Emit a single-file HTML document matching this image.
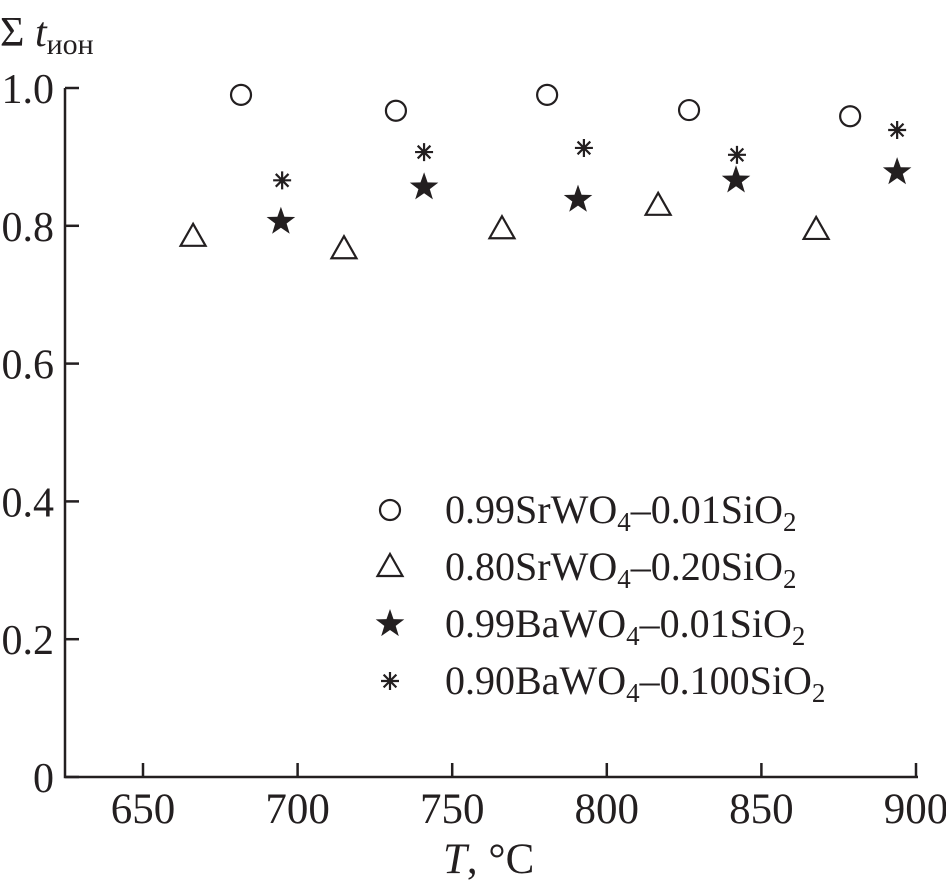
<!DOCTYPE html>
<html><head><meta charset="utf-8"><style>
body{margin:0;background:#fff}
svg{display:block;font-family:"Liberation Serif",serif}
</style></head><body>
<svg id="chart" width="946" height="890" viewBox="0 0 946 890">
<g id="axes" stroke="#231f20" stroke-width="2.5" fill="none"></g>
<g id="marks"></g>
<g id="labels" fill="#231f20"></g>
<text x="0" y="46" font-size="42" fill="#231f20">Σ <tspan font-style="italic">t</tspan><tspan font-size="30" dy="8">ион</tspan></text>
<text x="443" y="873" font-size="43" fill="#231f20"><tspan font-style="italic">T</tspan>, °C</text>
<g id="legend"></g>
</svg>
<script>
const xTicks=[650,700,750,800,850,900];
const yTicks=[0,0.2,0.4,0.6,0.8,1.0];
const yTickLabels=["0","0.2","0.4","0.6","0.8","1.0"];
const sr99T=[681.7,731.8,780.7,826.6,878.7];
const sr99V=[0.990,0.967,0.990,0.968,0.959];
const sr80T=[666.2,715,766.1,816.6,867.7];
const sr80V=[0.784,0.766,0.795,0.829,0.794];
const ba99T=[694.6,740.9,790.7,841.8,893.9];
const ba99V=[0.806,0.856,0.838,0.866,0.878];
const ba90T=[695,740.9,792.6,842.1,893.9];
const ba90V=[0.866,0.907,0.913,0.903,0.939];
const legendLabels=[["0.99SrWO","4","–0.01SiO","2"],["0.80SrWO","4","–0.20SiO","2"],["0.99BaWO","4","–0.01SiO","2"],["0.90BaWO","4","–0.100SiO","2"]];

const NS="http://www.w3.org/2000/svg";
const X0=65,X1=918,Y0=777;
function sx(t){return 143+(t-650)*154.6/50;}
function sy(v){return Y0-v*689;}
function mk(tag,attrs,parent){const e=document.createElementNS(NS,tag);for(const k in attrs)e.setAttribute(k,attrs[k]);parent.appendChild(e);return e;}
const axes=document.getElementById('axes'),marks=document.getElementById('marks'),labels=document.getElementById('labels'),legend=document.getElementById('legend');
let p=mk('path',{d:`M${X0} ${sy(1)} V${Y0} H${X1}`},axes);


xTicks.forEach(t=>{
 const l=mk('line',{x1:sx(t),x2:sx(t),y1:Y0,y2:Y0-14},axes);
 
 
 const tx=mk('text',{x:sx(t),y:823,'font-size':43,'text-anchor':'middle'},labels);
 tx.textContent=t;
 
 
});
yTicks.forEach((v,i)=>{
 const l=mk('line',{x1:X0,x2:X0+14,y1:sy(v),y2:sy(v)},axes);
 
 
 const tx=mk('text',{x:54,y:sy(v)+15,'font-size':42,'text-anchor':'end'},labels);
 tx.textContent=yTickLabels[i];
 
 
});
function circle(x,y,g){return mk('circle',{cx:x,cy:y,r:10,fill:'none',stroke:'#231f20','stroke-width':2.2},g);}
function tri(x,y,g){return mk('path',{d:`M${x} ${y-13} L${x+12.5} ${y+9} L${x-12.5} ${y+9} Z`,fill:'none',stroke:'#231f20','stroke-width':2.2},g);}
function star(x,y,g){let d='';for(let i=0;i<10;i++){const r=i%2?6:15,a=-Math.PI/2+i*Math.PI/5;d+=(i?'L':'M')+(x+r*Math.cos(a)).toFixed(1)+' '+(y+r*Math.sin(a)).toFixed(1);}return mk('path',{d:d+'Z',fill:'#231f20'},g);}
function aster(x,y,g){let d='';for(let i=0;i<4;i++){const a=i*Math.PI/4,c=9*Math.cos(a),s=9*Math.sin(a);d+=`M${x-c} ${y-s}L${x+c} ${y+s}`;}return mk('path',{d:d,stroke:'#231f20','stroke-width':2.2,fill:'none'},g);}
const series=[[sr99T,sr99V,circle,'sr99-point'],[sr80T,sr80V,tri,'sr80-point'],[ba99T,ba99V,star,'ba99-point'],[ba90T,ba90V,aster,'ba90-point']];
series.forEach(([T,V,f,n],si)=>{
 T.forEach((t,i)=>{const e=f(sx(t),sy(V[i]),marks);
  
  });
 const ly=510+si*57;
 const m=f(390,ly,legend);
 
 
 const tx=mk('text',{x:445,y:ly+13,'font-size':40,fill:'#231f20'},legend);
 const L=legendLabels[si];
 tx.innerHTML=`${L[0]}<tspan font-size="27" dy="8">${L[1]}</tspan><tspan dy="-8">${L[2]}</tspan><tspan font-size="27" dy="8">${L[3]}</tspan>`;
 
 
});
</script>
</body></html>
